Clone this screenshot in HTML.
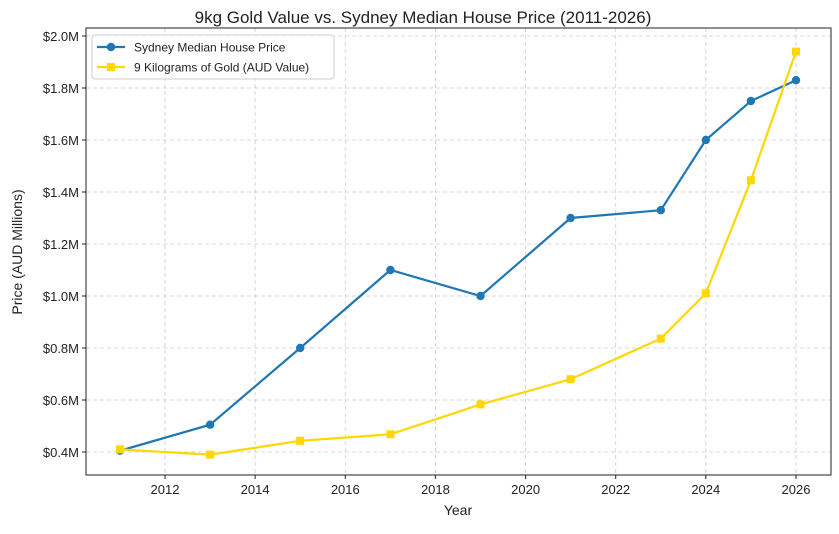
<!DOCTYPE html>
<html><head><meta charset="utf-8"><style>
body{margin:0;background:#fff;}
svg text{font-family:"Liberation Sans",sans-serif;fill:#222;}
</style></head><body>
<svg width="839" height="529" xmlns="http://www.w3.org/2000/svg">
<rect width="839" height="529" fill="#fff"/>
<text x="423" y="23" font-size="17" text-anchor="middle">9kg Gold Value vs. Sydney Median House Price (2011-2026)</text>
<g stroke="#ccc" stroke-width="0.8" stroke-dasharray="4,3">
<line x1="165" y1="28" x2="165" y2="475"/><line x1="255.1" y1="28" x2="255.1" y2="475"/><line x1="345.3" y1="28" x2="345.3" y2="475"/><line x1="435.4" y1="28" x2="435.4" y2="475"/><line x1="525.6" y1="28" x2="525.6" y2="475"/><line x1="615.7" y1="28" x2="615.7" y2="475"/><line x1="705.8" y1="28" x2="705.8" y2="475"/><line x1="796" y1="28" x2="796" y2="475"/>
<line x1="86" y1="36" x2="831" y2="36"/><line x1="86" y1="88" x2="831" y2="88"/><line x1="86" y1="140" x2="831" y2="140"/><line x1="86" y1="192" x2="831" y2="192"/><line x1="86" y1="244" x2="831" y2="244"/><line x1="86" y1="296" x2="831" y2="296"/><line x1="86" y1="348" x2="831" y2="348"/><line x1="86" y1="400" x2="831" y2="400"/><line x1="86" y1="452" x2="831" y2="452"/>
</g>
<rect x="86" y="28" width="745" height="447" fill="none" stroke="#222" stroke-width="1"/>
<g font-size="13" text-anchor="end">
<text x="79" y="41">$2.0M</text><text x="79" y="93">$1.8M</text><text x="79" y="145">$1.6M</text><text x="79" y="197">$1.4M</text><text x="79" y="249">$1.2M</text><text x="79" y="301">$1.0M</text><text x="79" y="353">$0.8M</text><text x="79" y="405">$0.6M</text><text x="79" y="457">$0.4M</text>
</g>
<g stroke="#222"><line x1="82" y1="36" x2="86" y2="36"/><line x1="82" y1="88" x2="86" y2="88"/><line x1="82" y1="140" x2="86" y2="140"/><line x1="82" y1="192" x2="86" y2="192"/><line x1="82" y1="244" x2="86" y2="244"/><line x1="82" y1="296" x2="86" y2="296"/><line x1="82" y1="348" x2="86" y2="348"/><line x1="82" y1="400" x2="86" y2="400"/><line x1="82" y1="452" x2="86" y2="452"/>
<line x1="165" y1="475" x2="165" y2="479"/><line x1="255.1" y1="475" x2="255.1" y2="479"/><line x1="345.3" y1="475" x2="345.3" y2="479"/><line x1="435.4" y1="475" x2="435.4" y2="479"/><line x1="525.6" y1="475" x2="525.6" y2="479"/><line x1="615.7" y1="475" x2="615.7" y2="479"/><line x1="705.8" y1="475" x2="705.8" y2="479"/><line x1="796" y1="475" x2="796" y2="479"/></g>
<g font-size="13" text-anchor="middle">
<text x="165" y="494">2012</text><text x="255.1" y="494">2014</text><text x="345.3" y="494">2016</text><text x="435.4" y="494">2018</text><text x="525.6" y="494">2020</text><text x="615.7" y="494">2022</text><text x="705.8" y="494">2024</text><text x="796" y="494">2026</text>
</g>
<text x="458" y="515" font-size="14" text-anchor="middle">Year</text>
<text transform="translate(22,252) rotate(-90)" font-size="14" text-anchor="middle">Price (AUD Millions)</text>
<polyline fill="none" stroke="#1f77b4" stroke-width="2.2" points="120,450.7 210.1,424.7 300.2,348 390.4,270 480.5,296 570.6,218 660.8,210.2 705.8,140 750.9,101 796,80.2"/>
<g fill="#1f77b4"><circle cx="120" cy="450.7" r="4.2"/><circle cx="210.1" cy="424.7" r="4.2"/><circle cx="300.2" cy="348" r="4.2"/><circle cx="390.4" cy="270" r="4.2"/><circle cx="480.5" cy="296" r="4.2"/><circle cx="570.6" cy="218" r="4.2"/><circle cx="660.8" cy="210.2" r="4.2"/><circle cx="705.8" cy="140" r="4.2"/><circle cx="750.9" cy="101" r="4.2"/><circle cx="796" cy="80.2" r="4.2"/></g>
<polyline fill="none" stroke="#ffd700" stroke-width="2.2" points="120,449.4 210.1,454.6 300.2,440.8 390.4,434.3 480.5,404.4 570.6,379.2 660.8,338.6 705.8,293.4 750.9,180.3 796,51.6"/>
<g fill="#ffd700"><rect x="116" y="445.4" width="8" height="8"/><rect x="206.1" y="450.6" width="8" height="8"/><rect x="296.2" y="436.8" width="8" height="8"/><rect x="386.4" y="430.3" width="8" height="8"/><rect x="476.5" y="400.4" width="8" height="8"/><rect x="566.6" y="375.2" width="8" height="8"/><rect x="656.8" y="334.6" width="8" height="8"/><rect x="701.8" y="289.4" width="8" height="8"/><rect x="746.9" y="176.3" width="8" height="8"/><rect x="792" y="47.6" width="8" height="8"/></g>
<rect x="92" y="35" width="242" height="44" rx="3" fill="#fff" fill-opacity="0.85" stroke="#ccc"/>
<line x1="97" y1="47" x2="125" y2="47" stroke="#1f77b4" stroke-width="2.2"/><circle cx="111" cy="47" r="4.2" fill="#1f77b4"/>
<text x="134" y="51.5" font-size="12">Sydney Median House Price</text>
<line x1="97" y1="67" x2="125" y2="67" stroke="#ffd700" stroke-width="2.2"/><rect x="107" y="63" width="8" height="8" fill="#ffd700"/>
<text x="134" y="71.5" font-size="12">9 Kilograms of Gold (AUD Value)</text>
</svg>
</body></html>
